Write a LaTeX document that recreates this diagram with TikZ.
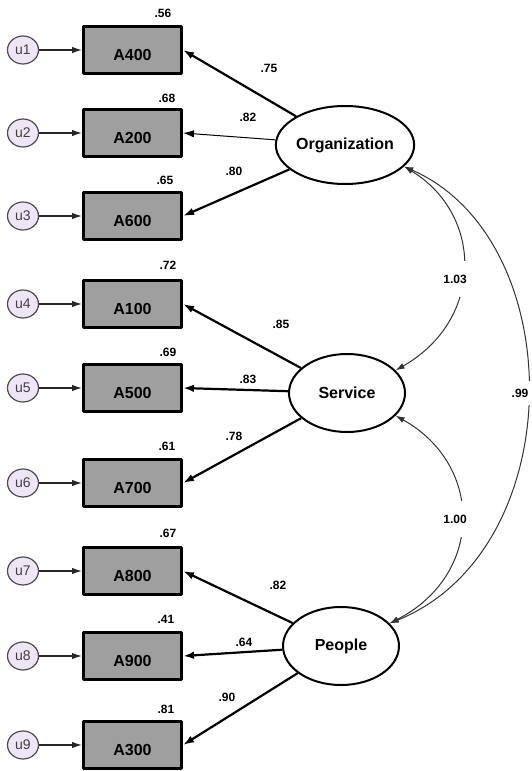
\documentclass[tikz,border=0pt]{standalone}
\usepackage{fontspec}
\setmainfont{Liberation Sans}
\usetikzlibrary{arrows.meta,shapes.geometric}
\definecolor{errfill}{RGB}{238,230,246}
\tikzset{
  obs/.style={draw, line width=3pt, fill=gray!75, minimum width=98pt, minimum height=47pt,
    inner sep=0pt, text height=21pt, text depth=0pt, font=\fontsize{16}{16}\bfseries},
  err/.style={ellipse, draw=black!70, line width=1.2pt, fill=errfill, minimum width=31pt,
    minimum height=28pt, inner sep=0pt, text=black!75, font=\fontsize{14}{14}\selectfont},
  lat/.style={ellipse, draw, line width=2pt, fill=white, minimum width=116pt,
    minimum height=78pt, inner sep=0pt, font=\fontsize{16}{16}\bfseries},
  coef/.style={inner sep=1pt, font=\fontsize{12}{12}\bfseries},
  load/.style={-{Latex[length=11pt,width=7.5pt]}, line width=2.2pt},
  errarr/.style={-{Latex[length=10pt,width=6.5pt]}, line width=1.3pt, draw=black!85},
  cov/.style={{Latex[length=9pt,width=6pt]}-{Latex[length=9pt,width=6pt]}, line width=1pt, draw=black!80},
}
\begin{document}
\begin{tikzpicture}[x=1pt, y=-1pt, line join=round]
	\useasboundingbox (0,0) rectangle (531,771);

	% Các biến tiềm ẩn
	\node[lat] (org) at (345,145) {Organization};
	\node[lat] (serv) at (347,393) {Service};
	\node[lat] (ppl) at (341,646) {People};

	% Các biến quan sát
	\node[obs] (a400) at (132.5,50) {A400};
	\node[obs] (a200) at (132.5,133) {A200};
	\node[obs] (a600) at (132.5,216) {A600};
	\node[obs] (a100) at (132.5,304) {A100};
	\node[obs] (a500) at (132.5,388) {A500};
	\node[obs] (a700) at (132.5,483) {A700};
	\node[obs] (a800) at (132.5,571) {A800};
	\node[obs] (a900) at (132.5,656) {A900};
	\node[obs] (a300) at (132.5,745) {A300};

	% Các sai số u1..u9
	\node[err] (u1) at (23,50) {u1};
	\node[err] (u2) at (23,133) {u2};
	\node[err] (u3) at (23,216) {u3};
	\node[err] (u4) at (23,304) {u4};
	\node[err] (u5) at (23,388) {u5};
	\node[err] (u6) at (23,483) {u6};
	\node[err] (u7) at (23,571) {u7};
	\node[err] (u8) at (23,656) {u8};
	\node[err] (u9) at (23,745) {u9};
	\foreach \u/\a in {u1/a400, u2/a200, u3/a600, u4/a100, u5/a500, u6/a700, u7/a800, u8/a900, u9/a300}
		\draw[errarr] (\u) -- (\a);

	% Hệ số tải nhân tố
	\draw[load] (org) -- (a400.east);
	\draw[load, line width=1pt] (org) -- (a200.east);
	\draw[load] (org) -- (a600.east);
	\draw[load] (serv) -- (a100.east);
	\draw[load] (serv) -- (a500.east);
	\draw[load] (serv) -- (a700.east);
	\draw[load] (ppl) -- (a800.east);
	\draw[load] (ppl) -- (a900.east);
	\draw[load] (ppl) -- (a300.east);

	\node[coef] (l1) at (269,68) {.75};
	\node[coef] (l2) at (248,117) {.82};
	\node[coef] (l3) at (234,171) {.80};
	\node[coef] (l4) at (281,324) {.85};
	\node[coef] (l5) at (248,379) {.83};
	\node[coef] (l6) at (234,436) {.78};
	\node[coef] (l7) at (278,585) {.82};
	\node[coef] (l8) at (244,642) {.64};
	\node[coef] (l9) at (227,697) {.90};

	% R bình phương
	\node[coef] (r1) at (163,13) {.56};
	\node[coef] (r2) at (167,98) {.68};
	\node[coef] (r3) at (165,180) {.65};
	\node[coef] (r4) at (168,265) {.72};
	\node[coef] (r5) at (168,352) {.69};
	\node[coef] (r6) at (167,446) {.61};
	\node[coef] (r7) at (168,533) {.67};
	\node[coef] (r8) at (166,619) {.41};
	\node[coef] (r9) at (166,709) {.81};

	% Hiệp phương sai
	\draw[cov] (org.-20) .. controls (484,215) and (484,320) .. (serv.25);
	\draw[cov] (serv.-25) .. controls (484,465) and (484,575) .. (ppl.25);
	\draw[cov] (org.-20) .. controls (571,240) and (571,550) .. (ppl.25);
	\node[coef, fill=white, inner xsep=2pt, inner ysep=14pt] (c1) at (455,279) {1.03};
	\node[coef, fill=white, inner xsep=2pt, inner ysep=14pt] (c2) at (455,519) {1.00};
	\node[coef, fill=white, inner xsep=2pt, inner ysep=8pt] (c3) at (520,393) {.99};
\end{tikzpicture}
\end{document}
